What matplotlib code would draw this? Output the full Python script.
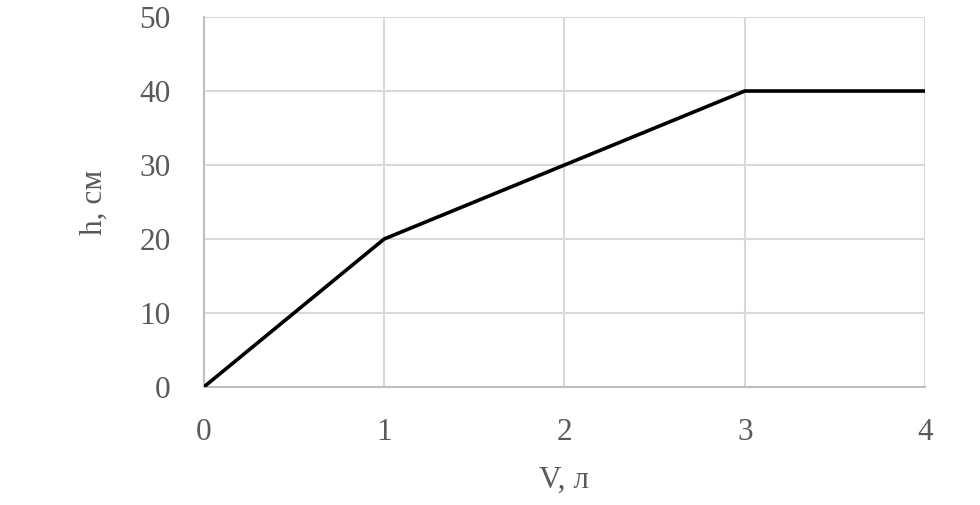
import matplotlib
matplotlib.use("Agg")
import matplotlib.pyplot as plt

# h(V) data
volume = [0, 1, 2, 3, 4]
height = [0, 20, 30, 40, 40]
x_ticks = [0, 1, 2, 3, 4]
y_ticks = [0, 10, 20, 30, 40, 50]

plt.rcParams['font.family'] = ['Liberation Serif', 'DejaVu Serif']

fig = plt.figure(figsize=(9.8, 5.05), dpi=100)
ax = fig.add_axes([0.208, 0.2337, 0.736, 0.7326])

ax.plot(volume, height, color='black', linewidth=2.6, solid_capstyle='butt', zorder=3)

ax.set_xlim(0, 4)
ax.set_ylim(0, 50)
ax.set_xticks(x_ticks)
ax.set_yticks(y_ticks)
ax.grid(True, color='#d9d9d9', linewidth=1.5)
ax.set_axisbelow(True)

for side in ['top', 'right']:
    ax.spines[side].set_visible(False)
ax.spines['left'].set_color('#bfbfbf')
ax.spines['bottom'].set_color('#bfbfbf')
ax.spines['left'].set_linewidth(1.5)
ax.spines['bottom'].set_linewidth(1.5)

ax.tick_params(length=0, labelsize=22.5, labelcolor='#595959')
ax.tick_params(axis='y', pad=24)
ax.tick_params(axis='x', pad=22)

ax.set_xlabel('V, л', fontsize=22.5, color='#595959', labelpad=14)
ax.set_ylabel('h, см', fontsize=22.5, color='#595959', labelpad=22)

fig.savefig('out.png', dpi=100)
